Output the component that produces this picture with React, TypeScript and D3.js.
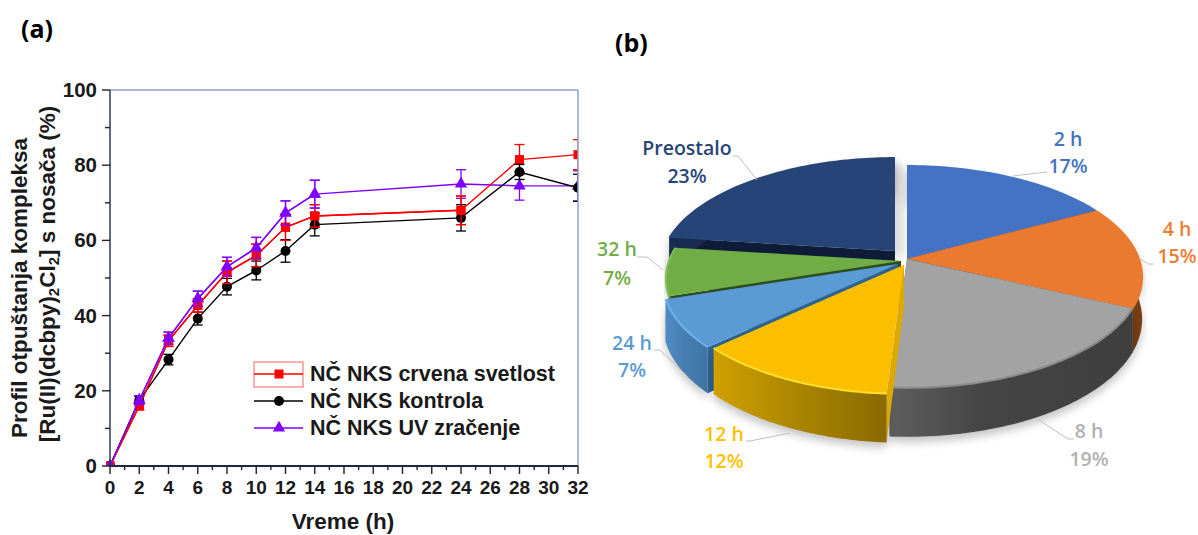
import React from "react";
import * as d3 from "d3";

const times = [0, 2, 4, 6, 8, 10, 12, 14, 24, 28, 32];
const redValues = [0, 16, 33.3, 42.7, 51.5, 56, 63.5, 66.5, 68, 81.5, 82.8];
const redErrors = [0, 1, 1.5, 1.8, 3, 3, 3.5, 3, 3.8, 4, 4];
const blackValues = [0, 17.5, 28.3, 39.2, 47.7, 52, 57.2, 64.2, 66, 78.2, 74];
const blackErrors = [0, 1, 1.4, 1.7, 2.2, 2.5, 3, 3, 3.5, 2, 3.6];
const violetValues = [0, 17.5, 34, 44.5, 53, 58, 67.3, 72.3, 75, 74.5, 74.5];
const violetErrors = [0, 1.2, 1.6, 2, 2.5, 2.8, 3.2, 3.7, 3.8, 3.8, 4];
const seriesNames = ["NČ NKS crvena svetlost", "NČ NKS kontrola", "NČ NKS UV zračenje"];
const xTicks = d3.range(0, 33, 2);
const yTicks = [0, 20, 40, 60, 80, 100];

const pieLabels = ["2 h", "4 h", "8 h", "12 h", "24 h", "32 h", "Preostalo"];
const pieValues = [17, 15, 19, 12, 7, 7, 23];

const FONT = "'Liberation Sans', Arial, sans-serif";
const PIE_FONT = "'Open Sans', sans-serif";

const x = d3.scaleLinear().domain([0, 32]).range([110, 578]);
const y = d3.scaleLinear().domain([0, 100]).range([466, 90]);

type Style = { color: string; marker: "square" | "circle" | "triangle" };
const styles: Style[] = [
  { color: "#ff0000", marker: "square" },
  { color: "#000000", marker: "circle" },
  { color: "#8000ff", marker: "triangle" },
];

function Marker({ cx, cy, s }: { cx: number; cy: number; s: Style }) {
  if (s.marker === "square") return <rect x={cx - 4.5} y={cy - 4.5} width={9} height={9} fill={s.color} />;
  if (s.marker === "circle") return <circle cx={cx} cy={cy} r={5} fill={s.color} />;
  const sym = d3.symbol().type(d3.symbolTriangle).size(66)();
  return <path d={sym as string} transform={`translate(${cx},${cy})`} fill={s.color} />;
}

function Series({ vals, errs, s }: { vals: number[]; errs: number[]; s: Style }) {
  const line = d3.line<number>().x((_, i) => x(times[i])).y((d) => y(d));
  return (
    <g>
      <path d={line(vals) as string} fill="none" stroke={s.color} strokeWidth={1.4} />
      {vals.map((v, i) => (
        <g key={i} stroke={s.color} strokeWidth={1.3}>
          <line x1={x(times[i])} x2={x(times[i])} y1={y(v - errs[i])} y2={y(v + errs[i])} />
          {errs[i] > 0 && (
            <>
              <line x1={x(times[i]) - 5} x2={x(times[i]) + 5} y1={y(v - errs[i])} y2={y(v - errs[i])} />
              <line x1={x(times[i]) - 5} x2={x(times[i]) + 5} y1={y(v + errs[i])} y2={y(v + errs[i])} />
            </>
          )}
        </g>
      ))}
      {vals.map((v, i) => (
        <Marker key={i} cx={x(times[i])} cy={y(v)} s={s} />
      ))}
    </g>
  );
}

function LineChart() {
  const axisDark = "#2b3a55";
  const axisLight = "#8ea3c7";
  return (
    <g fontFamily={FONT} fontWeight={700} fill="#1a1a1a">
      <text x={21} y={38} fontSize={25} fontFamily={PIE_FONT} fontWeight={700} fill="#000">(a)</text>
      <clipPath id="plotClip">
        <rect x={106} y={88} width={472} height={378} />
      </clipPath>
      <g clipPath="url(#plotClip)">
        <Series vals={violetValues} errs={violetErrors} s={styles[2]} />
        <Series vals={redValues} errs={redErrors} s={styles[0]} />
        <Series vals={blackValues} errs={blackErrors} s={styles[1]} />
        <Series vals={redValues.slice(0, 9)} errs={redErrors.slice(0, 9)} s={styles[0]} />
        <Series vals={violetValues.slice(0, 8)} errs={violetErrors.slice(0, 8)} s={styles[2]} />
      </g>
      <line x1={110} x2={578} y1={90} y2={90} stroke={axisLight} strokeWidth={1.5} />
      <line x1={578} x2={578} y1={90} y2={466} stroke={axisLight} strokeWidth={1.5} />
      <line x1={110} x2={110} y1={90} y2={466} stroke={axisDark} strokeWidth={1.5} />
      <line x1={110} x2={578} y1={466} y2={466} stroke="#1c2a44" strokeWidth={2} />
      {d3.range(0, 101, 10).map((t) => (
        <line key={t} x1={t % 20 === 0 ? 102 : 105} x2={110} y1={y(t)} y2={y(t)} stroke="#222" strokeWidth={1.4} />
      ))}
      {d3.range(0, 33, 1).map((t) => (
        <line key={t} x1={x(t)} x2={x(t)} y1={466} y2={t % 2 === 0 ? 474 : 470} stroke="#222" strokeWidth={1.4} />
      ))}
      {yTicks.map((t) => (
        <text key={t} x={97} y={y(t) + 7} textAnchor="end" fontSize={20.5}>{t}</text>
      ))}
      {xTicks.map((t) => (
        <text key={t} x={x(t)} y={494} textAnchor="middle" fontSize={19}>{t}</text>
      ))}
      <text x={343} y={529} textAnchor="middle" fontSize={22.5}>Vreme (h)</text>
      <text transform="translate(27,288) rotate(-90)" textAnchor="middle" fontSize={22.5}>Profil otpuštanja kompleksa</text>
      <text transform="translate(55,274) rotate(-90)" textAnchor="middle" fontSize={22.5}>
        [Ru(II)(dcbpy)<tspan fontSize={15} dy={4}>2</tspan><tspan dy={-4}>Cl</tspan><tspan fontSize={15} dy={4}>2</tspan><tspan dy={-4}>] s nosača (%)</tspan>
      </text>
      <rect x={254} y={362} width={49} height={25} fill="none" stroke="#ff6060" strokeWidth={1} />
      {seriesNames.map((n, i) => {
        const ly = 374 + i * 27;
        return (
          <g key={n}>
            <line x1={254} x2={303} y1={ly} y2={ly} stroke={styles[i].color} strokeWidth={1.3} />
            <Marker cx={279} cy={ly} s={styles[i]} />
            <text x={310} y={ly + 7} fontSize={21.5}>{n}</text>
          </g>
        );
      })}
    </g>
  );
}

// Pie geometry: a perspective projection of a unit disc
const CX = 907;
const CY = 259;
const RX = 232;
const RY = 108;
const K = 0.162;
const DEPTH = 41;
const project = (a: number, r = 1, drop = 0): [number, number] => {
  const u = Math.sin(a) * r;
  const v = -Math.cos(a) * r;
  const w = 1 / (1 - K * v);
  return [RX * u * w, RY * v * w + drop * w];
};
const angles = d3.pie<number>().sort(null)(pieValues);

const sliceStyle = [
  { top: "#4472c4", rimA: "#2f5597", rimM: "#2f5597", rimB: "#2f5597", wall: "#2f5597", edge: "#4472c4", dx: 0, dy: 0 },
  { top: "#e97a30", rimA: "#6b3a12", rimM: "#6b3a12", rimB: "#7a3f12", wall: "#7a3f12", edge: "#e97a30", dx: 0, dy: 0 },
  { top: "#a3a3a3", rimA: "#5e5e5e", rimM: "#444444", rimB: "#3f3f3f", wall: "#555555", edge: "#8a8a8a", dx: 0, dy: 0 },
  { top: "#fbbf00", rimA: "#d0a000", rimM: "#b08a00", rimB: "#8a6a00", wall: "#dba900", edge: "#ffdf2e", dx: -3, dy: 6 },
  { top: "#5b9bd5", rimA: "#4f8cc5", rimM: "#487fb3", rimB: "#3f74a5", wall: "#2e6390", edge: "#70b0ea", dx: -9, dy: 5 },
  { top: "#70ad47", rimA: "#5d9239", rimM: "#5d9239", rimB: "#5d9239", wall: "#2c4c1b", edge: "#7fc050", dx: -6, dy: 2 },
  { top: "#264478", rimA: "#182c50", rimM: "#182c50", rimB: "#182c50", wall: "#0e1c38", edge: "#264478", dx: -12, dy: -8 },
];
const drawOrder = [6, 0, 1, 5, 4, 2, 3];

const pieText = [
  { x: 1068, y1: 146, y2: 173, color: "#4472c4", leader: [[1013, 176], [1047, 172]] },
  { x: 1177, y1: 236, y2: 263, color: "#ed7d31", leader: [[1139, 258], [1148, 264], [1154, 264]] },
  { x: 1089, y1: 438, y2: 466, color: "#b0b0b0", leader: [[1039, 420], [1068, 439], [1074, 439]] },
  { x: 724, y1: 441, y2: 468, color: "#ffc000", leader: [[790, 433], [750, 441], [746, 441]] },
  { x: 632, y1: 350, y2: 377, color: "#5b9bd5", leader: [[687, 376], [660, 350], [654, 350]] },
  { x: 617, y1: 256, y2: 285, color: "#70ad47", leader: [[663, 270], [647, 257], [637, 257]] },
  { x: 687, y1: 155, y2: 183, color: "#264478", leader: [[757, 180], [738, 156], [733, 156]] },
];

const pathOf = d3.line<[number, number]>();

function Slice({ i }: { i: number }) {
  const a0 = angles[i].startAngle;
  const a1 = angles[i].endAngle;
  const st = sliceStyle[i];
  const arc = d3.range(0, 61).map((k) => a0 + ((a1 - a0) * k) / 60);
  const topPts = arc.map((a) => project(a));
  const lowPts = arc.map((a) => project(a, 1, DEPTH));
  const top = pathOf([[0, 0], ...topPts]) + "Z";
  const rim = pathOf([...topPts, ...[...lowPts].reverse()]) + "Z";
  const wall = (a: number) => {
    const p = project(a);
    const q = project(a, 1, DEPTH);
    return pathOf([[0, 0], p, q, [0, DEPTH]]) + "Z";
  };
  const xs = topPts.map((p) => p[0]);
  return (
    <g transform={`translate(${CX + st.dx},${CY + st.dy})`}>
      <linearGradient id={`rim${i}`} gradientUnits="userSpaceOnUse" x1={d3.min(xs)} x2={d3.max(xs)} y1={0} y2={0}>
        <stop offset="0" stopColor={st.rimA} />
        <stop offset="0.4" stopColor={st.rimM} />
        <stop offset="1" stopColor={st.rimB} />
      </linearGradient>
      {i === 6 && <path d={top} fill="#000" opacity={0.14} filter="url(#pieBlur)" transform="translate(9,6)" />}
      <path d={rim} fill="#000" opacity={0.24} filter="url(#pieBlur)" transform="translate(0,5)" />
      <path d={wall(a0)} fill={st.wall} />
      <path d={wall(a1)} fill={st.wall} />
      <path d={rim} fill={`url(#rim${i})`} />
      <path d={top} fill={st.top} />
      <path d={pathOf(topPts) as string} fill="none" stroke={st.edge} strokeWidth={2} />
    </g>
  );
}

function PieChart() {
  return (
    <g>
      <text x={615} y={52} fontSize={25} fontFamily={PIE_FONT} fontWeight={700} fill="#000">(b)</text>
      <filter id="pieBlur" x="-10%" y="-20%" width="120%" height="140%">
        <feGaussianBlur stdDeviation="5" />
      </filter>
      {drawOrder.map((i) => (
        <Slice key={i} i={i} />
      ))}
      {pieText.map((t, i) => (
        <g key={i} fontFamily={PIE_FONT} fontWeight={600} fontSize={19.5} fill={t.color} textAnchor="middle">
          <path d={pathOf(t.leader as [number, number][]) as string} fill="none" stroke="#bfbfbf" strokeWidth={1} />
          <text x={t.x} y={t.y1}>{pieLabels[i]}</text>
          <text x={t.x} y={t.y2}>{pieValues[i]}%</text>
        </g>
      ))}
    </g>
  );
}

export default function App() {
  return (
    <svg width={1198} height={535} viewBox="0 0 1198 535" style={{ position: "absolute", left: 0, top: 0, background: "#fff" }}>
      <LineChart />
      <PieChart />
    </svg>
  );
}
